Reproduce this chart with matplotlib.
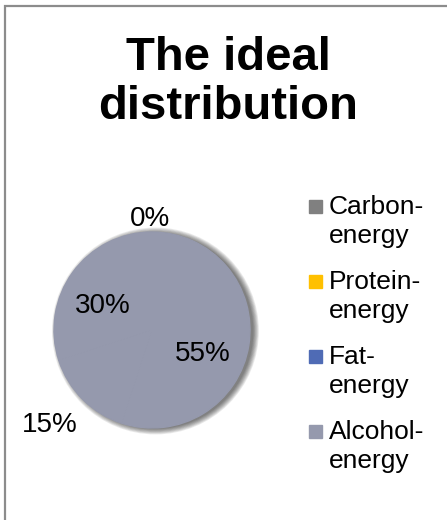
import numpy as np
import matplotlib
matplotlib.use('Agg')
import matplotlib.pyplot as plt
from matplotlib.patches import Circle, Rectangle

plt.rcParams['font.family'] = ['Liberation Sans', 'DejaVu Sans']

# energy shares
categories = ['Carbon-\nenergy', 'Protein-\nenergy', 'Fat-\nenergy', 'Alcohol-\nenergy']
shares = [55, 15, 30, 0]
legend_colors = ['#808080', '#ffc000', '#4f6bb5', '#9599ad']
pie_color = '#9599ad'

W, H = 447, 520
fig = plt.figure(figsize=(W / 100, H / 100), dpi=100)

# outer frame (only top and left edges fall inside the canvas)
fig.patches.append(Rectangle((4.5 / W, -0.1), 1.2, (H - 6.5) / H + 0.1,
                             transform=fig.transFigure, fill=False,
                             edgecolor='#8c8c8c', linewidth=1.6))

fig.text(228 / W, 1 - 36 / H, 'The ideal\ndistribution', ha='center', va='top',
         fontsize=34, fontweight='bold', linespacing=1.14)

# pie area
cx, cy, R = 152, 330, 98
half = 110
ax = fig.add_axes([(cx - half) / W, (H - cy - half) / H, 2 * half / W, 2 * half / H])
wedges, texts, autotexts = ax.pie(shares, colors=[pie_color] * len(shares),
                                  startangle=90, counterclock=False,
                                  autopct='%.0f%%', textprops={'fontsize': 20},
                                  wedgeprops={'linewidth': 1.0, 'edgecolor': pie_color})
lim = half / R
ax.set_xlim(-lim, lim)
ax.set_ylim(-lim, lim)
ax.set_aspect('equal')
ax.axis('off')

# soft shadow on the right side
for k in range(8):
    ax.add_patch(Circle((0.035, -0.01), 1.0 + k * 0.008, color='black',
                        alpha=0.08, zorder=0, linewidth=0))

# label placement: radial distance and angular nudge (deg) per slice
label_dist = [0.57, 1.42, 0.56, 1.13]
label_turn = [-16.5, -2.0, 9.5, 1.0]
for w, t, d, a in zip(wedges, autotexts, label_dist, label_turn):
    mid = np.deg2rad((w.theta1 + w.theta2) / 2 + a)
    t.set_position((d * np.cos(mid), d * np.sin(mid)))
    t.set_ha('center')
    t.set_va('center')

# legend
lx, ly0, step = 309, 206, 75
for i, (lab, col) in enumerate(zip(categories, legend_colors)):
    y = ly0 + i * step
    fig.patches.append(Rectangle((lx / W, (H - y - 6.5) / H), 13 / W, 13 / H,
                                 transform=fig.transFigure, color=col))
    fig.text(329 / W, 1 - (y - 11) / H, lab, ha='left', va='top',
             fontsize=19, linespacing=1.27)

fig.savefig('out.png', dpi=100)
